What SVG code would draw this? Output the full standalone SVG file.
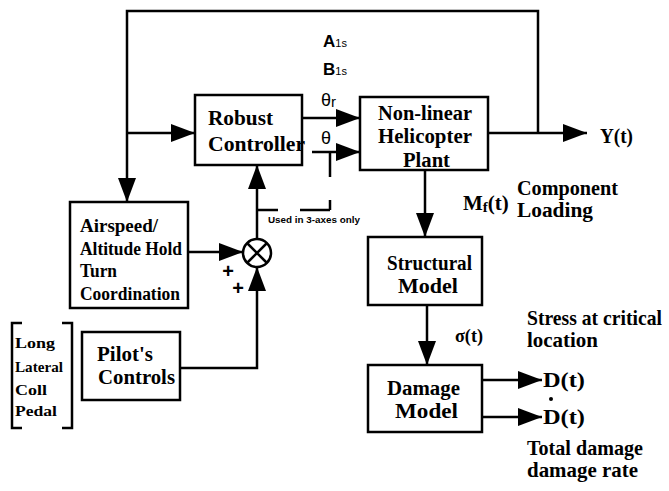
<svg xmlns="http://www.w3.org/2000/svg" width="669" height="491" viewBox="0 0 669 491">
<defs>
<marker id="ah" markerUnits="userSpaceOnUse" markerWidth="26" markerHeight="20" refX="24" refY="9" orient="auto">
<path d="M0,0 L24,9 L0,18 Z" fill="#000"/>
</marker>
<style>
.box{fill:#fff;stroke:#000;stroke-width:2.5}
.ln{fill:none;stroke:#000;stroke-width:2.5}
text{fill:#000}
</style>
</defs>
<rect width="669" height="491" fill="#fff"/>
<g id="connectors">
<path class="ln" d="M538,133 V11 H127 V202" marker-end="url(#ah)"/>
<path class="ln" d="M127,133 H195" marker-end="url(#ah)"/>
<path class="ln" d="M302,118 H360" marker-end="url(#ah)"/>
<path class="ln" d="M312,152 H360" marker-end="url(#ah)"/>
<path class="ln" d="M330,152 V177 M330,200 V210 M257,210 H278 M300,210 H330"/>
<path class="ln" d="M488,133 H587" marker-end="url(#ah)"/>
<path class="ln" d="M425,170 V237" marker-end="url(#ah)"/>
<path class="ln" d="M427,305 V365" marker-end="url(#ah)"/>
<path class="ln" d="M482,380 H542" marker-end="url(#ah)"/>
<path class="ln" d="M482,417 H542" marker-end="url(#ah)"/>
<path class="ln" d="M188,252 H243" marker-end="url(#ah)"/>
<path class="ln" d="M180,368 H257 V267" marker-end="url(#ah)"/>
<path class="ln" d="M257,239 V165" marker-end="url(#ah)"/>
</g>
<g id="robust-controller" font-family="Liberation Serif, serif" font-weight="bold">
<rect class="box" x="195" y="95" width="107" height="70"/>
<text x="208" y="125" font-size="21" textLength="65" lengthAdjust="spacingAndGlyphs">Robust</text>
<text x="208" y="151" font-size="21" textLength="97" lengthAdjust="spacingAndGlyphs">Controller</text>
</g>
<g id="plant" font-family="Liberation Serif, serif" font-weight="bold">
<rect class="box" x="360" y="97" width="128" height="73"/>
<text x="378" y="120" font-size="20.5" textLength="94" lengthAdjust="spacingAndGlyphs">Non-linear</text>
<text x="378" y="143" font-size="20.5" textLength="94" lengthAdjust="spacingAndGlyphs">Helicopter</text>
<text x="403" y="167" font-size="20.5" textLength="47" lengthAdjust="spacingAndGlyphs">Plant</text>
</g>
<g id="structural-model" font-family="Liberation Serif, serif" font-weight="bold">
<rect class="box" x="368" y="237" width="114" height="68"/>
<text x="387" y="270" font-size="20.5" textLength="85" lengthAdjust="spacingAndGlyphs">Structural</text>
<text x="398" y="293" font-size="20.5" textLength="60" lengthAdjust="spacingAndGlyphs">Model</text>
</g>
<g id="damage-model" font-family="Liberation Serif, serif" font-weight="bold">
<rect class="box" x="368" y="365" width="114" height="67"/>
<text x="387" y="395" font-size="20.5" textLength="73" lengthAdjust="spacingAndGlyphs">Damage</text>
<text x="395" y="418" font-size="20.5" textLength="63" lengthAdjust="spacingAndGlyphs">Model</text>
</g>
<g id="airspeed" font-family="Liberation Serif, serif" font-weight="bold">
<rect class="box" x="70" y="202" width="118" height="106"/>
<text x="80" y="232" font-size="18.5" textLength="78" lengthAdjust="spacingAndGlyphs">Airspeed/</text>
<text x="80" y="255" font-size="18.5" textLength="102" lengthAdjust="spacingAndGlyphs">Altitude Hold</text>
<text x="80" y="277" font-size="18.5" textLength="37" lengthAdjust="spacingAndGlyphs">Turn</text>
<text x="80" y="300" font-size="18.5" textLength="100" lengthAdjust="spacingAndGlyphs">Coordination</text>
</g>
<g id="pilots-controls" font-family="Liberation Serif, serif" font-weight="bold">
<rect class="box" x="82" y="332" width="98" height="68"/>
<text x="97" y="361" font-size="20" textLength="56" lengthAdjust="spacingAndGlyphs">Pilot's</text>
<text x="98" y="384" font-size="20" textLength="77" lengthAdjust="spacingAndGlyphs">Controls</text>
</g>
<g id="summing-junction" font-family="Liberation Sans, sans-serif">
<circle cx="257" cy="253" r="14" fill="#fff" stroke="#000" stroke-width="2.5"/>
<path class="ln" d="M247,243 L267,263 M267,243 L247,263"/>
<text x="228" y="278" font-size="20" font-weight="bold" text-anchor="middle">+</text>
<text x="238" y="295" font-size="20" font-weight="bold" text-anchor="middle">+</text>
</g>
<g id="pilot-inputs" font-family="Liberation Serif, serif" font-weight="bold">
<path class="ln" d="M22,323 H12 V428 H22 M62,323 H72 V428 H62"/>
<text x="15" y="348" font-size="15.5" textLength="40" lengthAdjust="spacingAndGlyphs">Long</text>
<text x="15" y="372" font-size="15.5" textLength="48" lengthAdjust="spacingAndGlyphs">Lateral</text>
<text x="15" y="395" font-size="15.5" textLength="32" lengthAdjust="spacingAndGlyphs">Coll</text>
<text x="15" y="416" font-size="15.5" textLength="42" lengthAdjust="spacingAndGlyphs">Pedal</text>
</g>
<g id="labels" font-family="Liberation Serif, serif" font-weight="bold">
<text x="323" y="47" font-family="Liberation Sans, sans-serif" font-size="17">A<tspan font-size="11" font-weight="normal">1s</tspan></text>
<text x="323" y="75" font-family="Liberation Sans, sans-serif" font-size="17">B<tspan font-size="11" font-weight="normal">1s</tspan></text>
<text x="321" y="106" font-family="Liberation Sans, sans-serif" font-size="18" font-weight="normal">θ<tspan font-size="15" dy="1">r</tspan></text>
<text x="321" y="144" font-family="Liberation Sans, sans-serif" font-size="18" font-weight="normal">θ</text>
<text x="268" y="223" font-family="Liberation Sans, sans-serif" font-size="8.5" textLength="92" lengthAdjust="spacingAndGlyphs">Used in 3-axes only</text>
<text x="600" y="143" font-size="21" textLength="33" lengthAdjust="spacingAndGlyphs">Y(t)</text>
<text x="463" y="210" font-size="21">M<tspan font-size="15" dy="2">f</tspan><tspan dy="-2">(t)</tspan></text>
<text x="517" y="195" font-size="20.5" textLength="101" lengthAdjust="spacingAndGlyphs">Component</text>
<text x="517" y="217" font-size="20.5" textLength="76" lengthAdjust="spacingAndGlyphs">Loading</text>
<text x="455" y="342" font-size="18" textLength="28" lengthAdjust="spacingAndGlyphs">σ(t)</text>
<text x="527" y="325" font-size="21" textLength="135" lengthAdjust="spacingAndGlyphs">Stress at critical</text>
<text x="527" y="347" font-size="21" textLength="71" lengthAdjust="spacingAndGlyphs">location</text>
<text x="543" y="387" font-size="22" textLength="42" lengthAdjust="spacingAndGlyphs">D(t)</text>
<text x="543" y="424" font-size="22" textLength="42" lengthAdjust="spacingAndGlyphs">D(t)</text>
<circle cx="551" cy="399" r="2" fill="#000"/>
<text x="527" y="455" font-size="21" textLength="116" lengthAdjust="spacingAndGlyphs">Total damage</text>
<text x="527" y="477" font-size="21" textLength="111" lengthAdjust="spacingAndGlyphs">damage rate</text>
</g>
</svg>
